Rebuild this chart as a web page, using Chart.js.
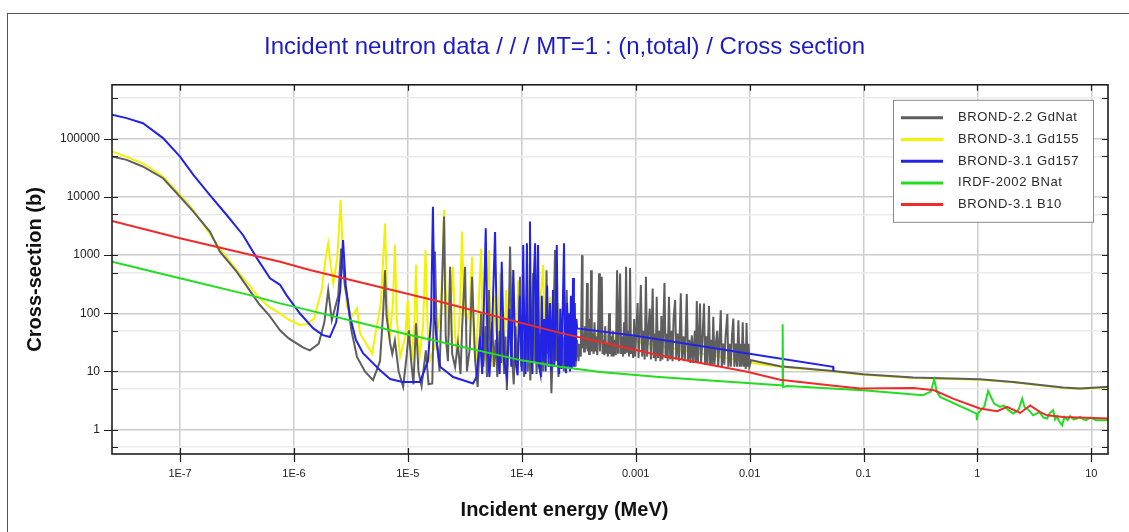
<!DOCTYPE html>
<html lang="en">
<head>
  <meta charset="UTF-8" />
  <title>Incident neutron data / MT=1 : (n,total) / Cross section</title>
  <script src="https://cdn.jsdelivr.net/npm/chart.js"></script>
  <style>
    body {
      margin: 0;
      background: #fff;
      overflow: hidden;
    }
    .frame {
      position: absolute;
      left: 7px;
      top: 13px;
      width: 1300px;
      height: 700px;
      border: 1px solid #555;
    }
    .wrap {
      position: absolute;
      left: 0;
      top: 0;
      width: 1129px;
      height: 532px;
    }
  </style>
</head>
<body>
  <div class="frame"></div>
  <div class="wrap"><canvas id="xsChart"></canvas></div>

  <script>
    // axis ticks
    const xTicks = [1e-7, 1e-6, 1e-5, 1e-4, 1e-3, 1e-2, 0.1, 1, 10];
    const xTickLabels = ['1E-7', '1E-6', '1E-5', '1E-4', '0.001', '0.01', '0.1', '1', '10'];
    const yTicks = [0.5, 1, 5, 10, 50, 100, 500, 1000, 5000, 10000, 50000, 100000, 500000];
    const yTickLabels = ['', '1', '', '10', '', '100', '', '1000', '', '10000', '', '100000', ''];

    const seriesNames = ['BROND-2.2 GdNat', 'BROND-3.1 Gd155', 'BROND-3.1 Gd157', 'IRDF-2002 BNat', 'BROND-3.1 B10'];

    // [energy (MeV), cross section (b)]
    const gdNat = [
      [2.53e-8, 49500], [3.4e-8, 43500], [4.7e-8, 33500], [7.1e-8, 21000], [1.0e-7, 10100],
      [1.31e-7, 5600], [1.83e-7, 2550], [2.24e-7, 1150], [3.14e-7, 520], [4.37e-7, 205],
      [5.0e-7, 140], [6.0e-7, 95], [7.55e-7, 51], [9.0e-7, 37], [1.2e-6, 26],
      [1.38e-6, 23], [1.65e-6, 30], [1.85e-6, 70], [2.0e-6, 250], [2.15e-6, 76],
      [2.45e-6, 200], [2.6e-6, 1300], [2.8e-6, 300], [2.95e-6, 170], [3.2e-6, 50],
      [3.58e-6, 17.8], [4.2e-6, 10], [4.95e-6, 7.1], [5.7e-6, 15], [6.1e-6, 120],
      [6.3e-6, 550], [6.5e-6, 90], [7.0e-6, 30], [7.3e-6, 20], [7.7e-6, 34],
      [8.3e-6, 10], [9.1e-6, 5.4], [9.8e-6, 20], [1.02e-5, 51], [1.07e-5, 15],
      [1.12e-5, 6], [1.18e-5, 67], [1.24e-5, 10], [1.32e-5, 5.6], [1.44e-5, 23],
      [1.52e-5, 6], [1.64e-5, 6.2], [1.73e-5, 1150], [1.8e-5, 30], [1.9e-5, 10],
      [2.08e-5, 4600], [2.15e-5, 40], [2.25e-5, 15], [2.35e-5, 630], [2.45e-5, 20],
      [2.6e-5, 12], [2.75e-5, 30], [2.9e-5, 9], [3.0e-5, 60], [3.18e-5, 630],
      [3.3e-5, 10], [3.5e-5, 25], [3.66e-5, 425], [3.9e-5, 15], [4.1e-5, 5.4],
      [4.3e-5, 40], [4.4e-5, 99], [4.6e-5, 12], [4.8e-5, 60], [4.95e-5, 8],
      [5.15e-5, 250], [5.3e-5, 15], [5.5e-5, 70], [5.7e-5, 12], [5.9e-5, 35],
      [6.1e-5, 8], [6.4e-5, 50], [6.6e-5, 14], [6.8e-5, 87], [7.0e-5, 9],
      [7.2e-5, 40], [7.4e-5, 4.8], [7.6e-5, 30], [7.9e-5, 1400], [8.2e-5, 20],
      [8.5e-5, 6], [8.8e-5, 60], [9.1e-5, 14], [9.4e-5, 45], [9.65e-5, 425],
      [9.9e-5, 12], [1.02e-4, 35], [1.05e-4, 8], [1.1e-4, 67], [1.13e-4, 10],
      [1.16e-4, 45], [1.19e-4, 7], [1.22e-4, 50], [1.26e-4, 490], [1.29e-4, 15],
      [1.32e-4, 60], [1.35e-4, 9], [1.39e-4, 45], [1.42e-4, 12], [1.45e-4, 45],
      [1.48e-4, 8], [1.51e-4, 80], [1.54e-4, 10], [1.57e-4, 60], [1.61e-4, 14],
      [1.65e-4, 550], [1.69e-4, 20], [1.73e-4, 70], [1.77e-4, 40], [1.82e-4, 4.2],
      [1.88e-4, 30], [1.96e-4, 1220], [2.0e-4, 15], [2.05e-4, 50], [2.1e-4, 8],
      [2.17e-4, 67], [2.22e-4, 12], [2.28e-4, 40], [2.34e-4, 10], [2.41e-4, 60],
      [2.48e-4, 250], [2.55e-4, 18], [2.62e-4, 55], [2.7e-4, 14], [2.76e-4, 45],
      [2.82e-4, 23], [2.9e-4, 60], [2.97e-4, 12], [3.05e-4, 35], [3.15e-4, 15],
      [3.2e-4, 30], [3.3e-4, 18], [3.38e-4, 1000], [3.42e-4, 25], [3.48e-4, 45],
      [3.52e-4, 22], [3.58e-4, 60], [3.63e-4, 24], [3.68e-4, 40], [3.74e-4, 330],
      [3.8e-4, 22], [3.85e-4, 35], [3.9e-4, 20], [3.96e-4, 80], [4.0e-4, 24],
      [4.06e-4, 550], [4.12e-4, 22], [4.2e-4, 45], [4.27e-4, 20], [4.35e-4, 70],
      [4.42e-4, 22], [4.5e-4, 40], [4.6e-4, 19], [4.68e-4, 60], [4.77e-4, 490],
      [4.85e-4, 22], [4.92e-4, 45], [5.04e-4, 425], [5.12e-4, 20], [5.2e-4, 35],
      [5.3e-4, 19], [5.4e-4, 60], [5.5e-4, 21], [5.6e-4, 30], [5.7e-4, 18],
      [5.84e-4, 100], [5.95e-4, 20], [6.05e-4, 40], [6.15e-4, 18], [6.3e-4, 50],
      [6.4e-4, 18], [6.55e-4, 35], [6.7e-4, 19], [6.87e-4, 550], [7.0e-4, 21],
      [7.1e-4, 45], [7.3e-4, 485], [7.45e-4, 20], [7.6e-4, 40], [7.75e-4, 18],
      [7.9e-4, 70], [8.05e-4, 20], [8.24e-4, 630], [8.4e-4, 21], [8.6e-4, 50],
      [8.75e-4, 18], [8.93e-4, 600], [9.1e-4, 20], [9.3e-4, 40], [9.5e-4, 17],
      [9.7e-4, 80], [9.9e-4, 18], [1.01e-3, 45], [1.04e-3, 150], [1.06e-3, 17],
      [1.08e-3, 40], [1.11e-3, 305], [1.14e-3, 18], [1.17e-3, 50], [1.2e-3, 16],
      [1.23e-3, 425], [1.26e-3, 18], [1.3e-3, 60], [1.33e-3, 120], [1.36e-3, 16],
      [1.41e-3, 267], [1.44e-3, 17], [1.47e-3, 45], [1.5e-3, 15], [1.53e-3, 192],
      [1.57e-3, 17], [1.61e-3, 50], [1.65e-3, 15], [1.68e-3, 90], [1.72e-3, 16],
      [1.79e-3, 330], [1.83e-3, 17], [1.87e-3, 45], [1.91e-3, 15], [1.96e-3, 192],
      [2.01e-3, 16], [2.06e-3, 50], [2.11e-3, 15], [2.15e-3, 80], [2.22e-3, 169],
      [2.27e-3, 16], [2.33e-3, 45], [2.4e-3, 15], [2.49e-3, 220], [2.55e-3, 16],
      [2.62e-3, 40], [2.7e-3, 15], [2.81e-3, 215], [2.88e-3, 15], [2.96e-3, 35],
      [3.03e-3, 14], [3.11e-3, 42], [3.2e-3, 14], [3.3e-3, 50], [3.37e-3, 14],
      [3.44e-3, 163], [3.52e-3, 14], [3.6e-3, 40], [3.67e-3, 147], [3.75e-3, 14],
      [3.85e-3, 35], [3.98e-3, 147], [4.07e-3, 13], [4.17e-3, 40], [4.27e-3, 13],
      [4.4e-3, 133], [4.5e-3, 13], [4.62e-3, 35], [4.7e-3, 13], [4.8e-3, 87],
      [4.92e-3, 13], [5.05e-3, 30], [5.2e-3, 50], [5.3e-3, 12], [5.45e-3, 35],
      [5.58e-3, 113], [5.7e-3, 12], [5.85e-3, 30], [6.0e-3, 13], [6.15e-3, 40],
      [6.38e-3, 97], [6.5e-3, 12], [6.7e-3, 30], [6.85e-3, 12], [7.0e-3, 40],
      [7.2e-3, 81], [7.35e-3, 12], [7.55e-3, 30], [7.75e-3, 12], [7.98e-3, 76],
      [8.15e-3, 12], [8.35e-3, 30], [8.5e-3, 12], [8.7e-3, 70], [8.9e-3, 12],
      [9.1e-3, 30], [9.25e-3, 11], [9.4e-3, 68], [9.6e-3, 12], [9.8e-3, 30],
      [9.95e-3, 12], [0.0103, 15.6], [0.0185, 12.3], [0.054, 10.2], [0.099, 8.95],
      [0.273, 7.85], [1.05, 7.35], [2.06, 6.6], [5.65, 5.3], [7.97, 5.08],
      [13.2, 5.4], [14, 5.4]
    ];

    const gd155 = [
      [2.53e-8, 60700], [3.4e-8, 49000], [4.7e-8, 38000], [7.1e-8, 22500], [1.0e-7, 10800],
      [1.31e-7, 5950], [2.24e-7, 1300], [3.14e-7, 555], [4.74e-7, 205], [6.0e-7, 130],
      [7.55e-7, 99], [9.0e-7, 78], [1.13e-6, 63], [1.3e-6, 65], [1.5e-6, 80],
      [1.75e-6, 250], [1.9e-6, 900], [2.0e-6, 1600], [2.1e-6, 700], [2.22e-6, 327],
      [2.4e-6, 900], [2.57e-6, 8900], [2.7e-6, 900], [2.91e-6, 130], [3.25e-6, 90],
      [3.58e-6, 121], [3.8e-6, 45], [4.85e-6, 20.4], [5.8e-6, 150], [6.3e-6, 3500],
      [6.6e-6, 150], [6.9e-6, 35], [7.4e-6, 150], [7.7e-6, 1500], [8.0e-6, 80],
      [8.55e-6, 17.8], [9.5e-6, 40], [9.98e-6, 170], [1.05e-5, 30], [1.08e-5, 15.6],
      [1.14e-5, 60], [1.18e-5, 680], [1.22e-5, 40], [1.27e-5, 17.8], [1.36e-5, 60],
      [1.43e-5, 1220], [1.5e-5, 40], [1.57e-5, 15.6], [1.75e-5, 30], [1.95e-5, 120],
      [2.08e-5, 6000], [2.15e-5, 250], [2.3e-5, 40], [2.49e-5, 630], [2.6e-5, 40],
      [2.69e-5, 20], [2.85e-5, 90], [2.99e-5, 2550], [3.1e-5, 150], [3.29e-5, 67],
      [3.5e-5, 120], [3.66e-5, 940], [3.8e-5, 30], [3.95e-5, 15], [4.15e-5, 100],
      [4.4e-5, 1300], [4.55e-5, 40], [4.7e-5, 15], [4.9e-5, 150], [5.16e-5, 1220],
      [5.3e-5, 30], [5.5e-5, 12], [5.8e-5, 200], [6.1e-5, 25], [6.45e-5, 485],
      [6.7e-5, 30], [6.9e-5, 12], [7.3e-5, 250], [7.7e-5, 20], [8.0e-5, 150],
      [8.4e-5, 555], [8.7e-5, 30], [8.9e-5, 14], [9.3e-5, 370], [9.7e-5, 25],
      [1.0e-4, 12], [1.05e-4, 200], [1.08e-4, 40], [1.12e-4, 720], [1.16e-4, 30],
      [1.2e-4, 15], [1.25e-4, 250], [1.31e-4, 830], [1.35e-4, 30], [1.4e-4, 12],
      [1.47e-4, 200], [1.54e-4, 680], [1.6e-4, 25], [1.65e-4, 14], [1.72e-4, 120],
      [1.77e-4, 192], [1.83e-4, 20], [1.9e-4, 14], [2.0e-4, 80], [2.1e-4, 150],
      [2.2e-4, 20], [2.3e-4, 13], [2.4e-4, 60], [2.5e-4, 90], [2.6e-4, 18],
      [2.7e-4, 14], [2.8e-4, 40], [2.9e-4, 60], [3.0e-4, 40], [3.1e-4, 48],
      [6.9e-4, 37], [3.1e-3, 21.7], [9.3e-3, 14.6], [0.0103, 14.0], [0.0185, 12.0],
      [0.054, 10.0], [0.099, 8.8], [0.273, 7.7], [1.05, 7.2], [2.06, 6.5],
      [5.65, 5.2], [7.97, 5.0], [13.2, 5.3], [14, 5.3]
    ];

    const gd157 = [
      [2.53e-8, 260000], [3.4e-8, 227000], [4.73e-8, 186000], [7.1e-8, 103000], [1.0e-7, 49500],
      [1.31e-7, 24000], [1.83e-7, 10800], [2.57e-7, 4900], [3.57e-7, 2220], [4.74e-7, 880],
      [6.17e-7, 400], [7.55e-7, 309], [8.6e-7, 205], [1.13e-6, 99], [1.48e-6, 55],
      [1.8e-6, 42], [2.07e-6, 39], [2.35e-6, 70], [2.55e-6, 250], [2.7e-6, 1820],
      [2.85e-6, 300], [3.11e-6, 87], [3.5e-6, 35], [4.04e-6, 20.6], [5.7e-6, 10.5],
      [7.0e-6, 7.4], [9.0e-6, 6.6], [1.28e-5, 6.6], [1.5e-5, 15], [1.6e-5, 80],
      [1.66e-5, 6800], [1.72e-5, 80], [1.8e-5, 30], [1.92e-5, 12], [2.5e-5, 8],
      [3.74e-5, 6.2], [4.0e-5, 8], [4.3e-5, 40], [4.5e-5, 9], [4.83e-5, 2900],
      [5.0e-5, 30], [5.2e-5, 8], [5.5e-5, 60], [5.83e-5, 2500], [6.1e-5, 20],
      [6.4e-5, 9], [6.67e-5, 770], [7.0e-5, 15], [7.4e-5, 8], [7.8e-5, 120],
      [8.1e-5, 12], [8.43e-5, 555], [8.8e-5, 15], [9.2e-5, 8.6], [9.6e-5, 200],
      [1.0e-4, 10], [1.03e-4, 1500], [1.06e-4, 20], [1.08e-4, 9], [1.11e-4, 1600],
      [1.14e-4, 15], [1.16e-4, 60], [1.18e-4, 3800], [1.21e-4, 20], [1.24e-4, 9],
      [1.27e-4, 300], [1.31e-4, 1600], [1.34e-4, 15], [1.36e-4, 100], [1.39e-4, 1500],
      [1.42e-4, 12], [1.46e-4, 9], [1.5e-4, 200], [1.54e-4, 15], [1.58e-4, 80],
      [1.62e-4, 10], [1.67e-4, 300], [1.72e-4, 12], [1.77e-4, 150], [1.82e-4, 10],
      [1.88e-4, 250], [1.93e-4, 12], [1.98e-4, 60], [2.03e-4, 1500], [2.08e-4, 15],
      [2.13e-4, 9], [2.18e-4, 120], [2.23e-4, 11], [2.28e-4, 80], [2.35e-4, 1600],
      [2.4e-4, 15], [2.45e-4, 9.3], [2.5e-4, 150], [2.55e-4, 12], [2.6e-4, 100],
      [2.65e-4, 10], [2.7e-4, 200], [2.75e-4, 11], [2.82e-4, 405], [2.87e-4, 12],
      [2.92e-4, 150], [2.97e-4, 15], [3.02e-4, 80], [3.06e-4, 55], [1.0e-3, 41],
      [0.0103, 20], [0.054, 12], [0.0545, 10.2]
    ];

    const bNat = [
      [2.53e-8, 771], [1.0e-7, 400], [4.1e-7, 205], [7.55e-7, 148], [1.0e-6, 130],
      [1.0e-5, 43], [1.0e-4, 15.5], [2.17e-4, 12], [4.9e-4, 9.8], [1.6e-3, 8.05],
      [0.0185, 5.8], [0.0193, 5.7], [0.0195, 65], [0.0197, 5.4], [0.0215, 5.6],
      [0.099, 4.75], [0.333, 3.9], [0.39, 4.5], [0.417, 7.25], [0.44, 4.5],
      [0.47, 3.65], [0.98, 1.88], [0.99, 1.45], [1.01, 1.9], [1.15, 2.5],
      [1.24, 4.6], [1.4, 2.8], [1.58, 2.45], [1.7, 2.6], [1.85, 2.2],
      [2.06, 1.88], [2.3, 2.2], [2.47, 3.4], [2.6, 2.4], [2.8, 2.2],
      [3.08, 1.76], [3.5, 2.0], [3.8, 1.6], [4.09, 1.55], [4.3, 1.9],
      [4.62, 2.15], [4.8, 1.5], [5.0, 1.7], [5.2, 1.4], [5.54, 1.19],
      [5.8, 1.65], [6.2, 1.45], [6.5, 1.7], [7.0, 1.5], [7.5, 1.55],
      [8.0, 1.65], [8.5, 1.5], [9.0, 1.45], [9.77, 1.6], [11, 1.45], [14, 1.45]
    ];

    const b10 = [
      [2.53e-8, 3870], [1.0e-7, 1950], [7.55e-7, 770], [1.38e-6, 555], [1.92e-5, 158],
      [8.43e-5, 74], [2.17e-4, 46], [4.9e-4, 32], [1.6e-3, 19], [9.3e-3, 10],
      [0.0185, 7.2], [0.05, 5.8], [0.093, 5.1], [0.273, 5.2], [0.417, 4.75],
      [0.61, 3.4], [1.05, 2.3], [1.49, 2.07], [1.82, 2.45], [2.37, 1.93],
      [2.9, 2.6], [3.55, 2.0], [4.09, 1.76], [5.65, 1.65], [14, 1.55]
    ];

    const colors = ['#5e5e5e', '#f2f200', '#2323e6', '#22dd22', '#f02a2a'];
    const drawOrder = [3, 4, 2, 1, 0];   // lower = drawn on top

    const isDecade = v => Math.abs(Math.log10(v) - Math.round(Math.log10(v))) < 1e-6;
    const toPoints = arr => arr.map(p => ({ x: p[0], y: p[1] }));

    const allSeries = [gdNat, gd155, gd157, bNat, b10];

    // legend box drawn inside the plot
    const boxLegend = {
      id: 'boxLegend',
      afterDatasetsDraw(chart) {
        const { ctx, chartArea } = chart;
        const w = 200, h = 122;
        const left = chartArea.right - 15 - w;
        const top = chartArea.top + 15;
        ctx.save();
        ctx.fillStyle = '#fff';
        ctx.fillRect(left, top, w, h);
        ctx.strokeStyle = '#8a8a8a';
        ctx.lineWidth = 1;
        ctx.strokeRect(left + 0.5, top + 0.5, w, h);
        ctx.font = '13px "Liberation Sans", Arial, sans-serif';
        if ('letterSpacing' in ctx) ctx.letterSpacing = '0.6px';
        ctx.textBaseline = 'middle';
        chart.data.datasets.forEach((ds, i) => {
          const y = top + 18 + i * 21.7;
          ctx.strokeStyle = ds.borderColor;
          ctx.lineWidth = 3;
          ctx.beginPath();
          ctx.moveTo(left + 8, y);
          ctx.lineTo(left + 50, y);
          ctx.stroke();
          ctx.fillStyle = '#2a2a2a';
          ctx.fillText(ds.label, left + 65, y);
        });
        ctx.restore();
      }
    };

    // plot frame with tick marks on all four sides
    const plotFrame = {
      id: 'plotFrame',
      afterDraw(chart) {
        const { ctx, chartArea: a, scales } = chart;
        const xs = scales.x, ys = scales.y;
        ctx.save();
        ctx.strokeStyle = '#1e1e1e';
        ctx.lineWidth = 1.6;
        ctx.strokeRect(a.left, a.top, a.right - a.left, a.bottom - a.top);
        ctx.lineWidth = 1.2;
        ctx.beginPath();
        xTicks.forEach(v => {
          const px = Math.round(xs.getPixelForValue(v)) + 0.5;
          ctx.moveTo(px, a.bottom + 8);
          ctx.lineTo(px, a.bottom - 6);
          ctx.moveTo(px, a.top);
          ctx.lineTo(px, a.top + 6);
        });
        yTicks.forEach(v => {
          const py = Math.round(ys.getPixelForValue(v)) + 0.5;
          ctx.moveTo(a.left - (isDecade(v) ? 8 : 0), py);
          ctx.lineTo(a.left + 6, py);
          ctx.moveTo(a.right, py);
          ctx.lineTo(a.right - 6, py);
        });
        ctx.stroke();
        ctx.restore();
      }
    };

    new Chart(document.getElementById('xsChart'), {
      type: 'line',
      data: {
        datasets: allSeries.map((s, i) => ({
          label: seriesNames[i],
          data: toPoints(s),
          borderColor: colors[i],
          borderWidth: 2,
          pointRadius: 0,
          fill: false,
          tension: 0,
          order: drawOrder[i]
        }))
      },
      options: {
        responsive: true,
        maintainAspectRatio: false,
        animation: false,
        layout: { padding: 0 },
        plugins: {
          legend: { display: false },
          tooltip: { enabled: false },
          title: {
            display: true,
            text: 'Incident neutron data / / / MT=1 : (n,total) / Cross section',
            color: '#1c1cc4',
            font: { family: '"Liberation Sans", Arial, sans-serif', size: 24, weight: 'normal' },
            padding: { top: 33, bottom: 23 }
          },
          subtitle: {
            display: true,
            position: 'bottom',
            text: 'Incident energy (MeV)',
            color: '#111',
            font: { family: '"Liberation Sans", Arial, sans-serif', size: 20, weight: 'bold' },
            padding: { top: 8, bottom: 10 }
          }
        },
        scales: {
          x: {
            type: 'logarithmic',
            min: 2.53e-8,
            max: 14,
            border: { display: false },
            grid: { color: '#cdcdcd', lineWidth: 1.5, drawTicks: false },
            afterBuildTicks: scale => { scale.ticks = xTicks.map(v => ({ value: v })); },
            afterFit: scale => { scale.height = 36; },
            ticks: {
              autoSkip: false,
              maxRotation: 0,
              padding: 13,
              color: '#222',
              font: { family: '"Liberation Sans", Arial, sans-serif', size: 11 },
              callback: (v, i) => xTickLabels[i]
            }
          },
          y: {
            type: 'logarithmic',
            min: 0.38,
            max: 850000,
            border: { display: false },
            grid: {
              color: ctx => isDecade(ctx.tick.value) ? '#cdcdcd' : '#ebebeb',
              lineWidth: 1.5,
              drawTicks: false
            },
            afterBuildTicks: scale => { scale.ticks = yTicks.map(v => ({ value: v })); },
            afterFit: scale => { scale.width = 112; },
            ticks: {
              autoSkip: false,
              padding: 12,
              color: '#222',
              font: { family: '"Liberation Sans", Arial, sans-serif', size: 12 },
              callback: (v, i) => yTickLabels[i]
            },
            title: {
              display: true,
              text: 'Cross-section (b)',
              color: '#111',
              font: { family: '"Liberation Sans", Arial, sans-serif', size: 20, weight: 'bold' },
              padding: { top: 23, bottom: 0 }
            }
          },
          yPad: {
            type: 'linear',
            position: 'right',
            display: true,
            border: { display: false },
            grid: { display: false, drawTicks: false },
            ticks: { display: false },
            afterFit: scale => { scale.width = 21; }
          }
        }
      },
      plugins: [boxLegend, plotFrame]
    });
  </script>
</body>
</html>
